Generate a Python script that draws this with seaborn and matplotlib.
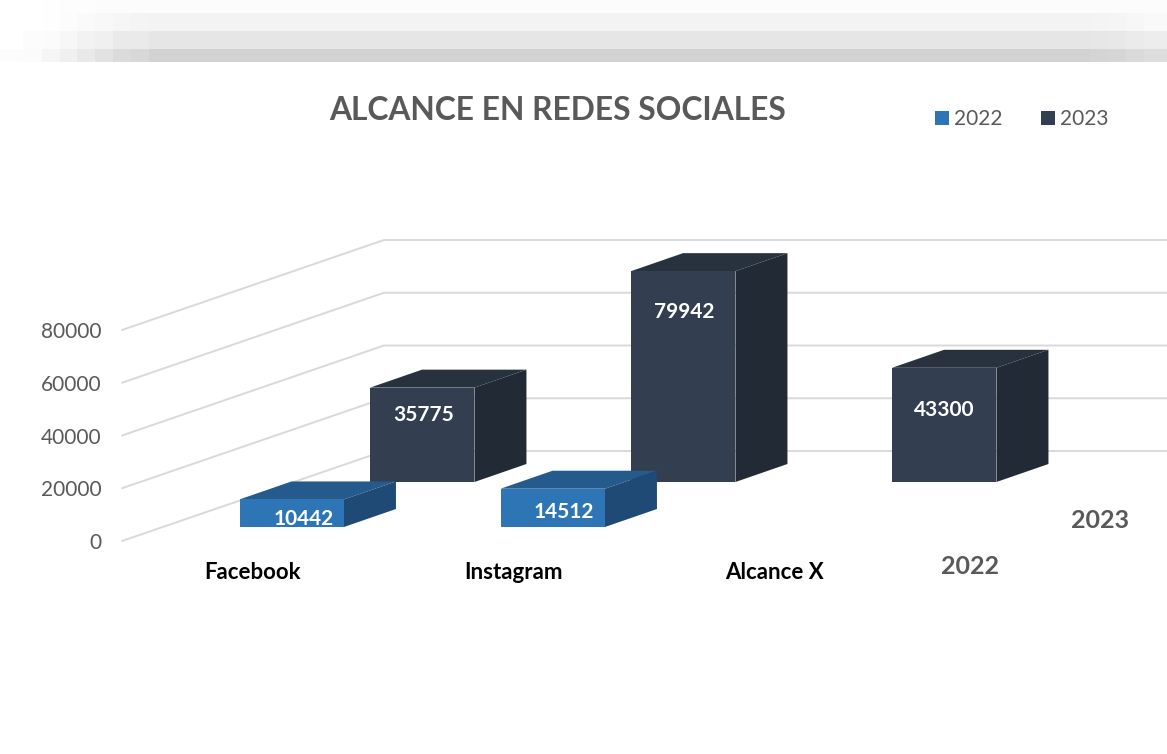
import matplotlib
matplotlib.use("Agg")
import matplotlib.pyplot as plt
from matplotlib.patches import Polygon
import numpy as np
import pandas as pd
import seaborn as sns

# ========= datos =========
redes = ["Facebook", "Instagram", "Alcance X"]
alcance_2022 = [10442, 14512, np.nan]
alcance_2023 = [35775, 79942, 43300]
anios = ["2022", "2023"]
y_ticks = [0, 20000, 40000, 60000, 80000]

colores = {"2022": "#2E75B6", "2023": "#333F50"}
lateral = {"2022": "#1E4A75", "2023": "#222A35"}
superior = {"2022": "#255A8C", "2023": "#28323F"}
# ============================

# franja gris de arriba (escalones)
banda_x = [0, 23, 42, 60, 77, 95, 113, 131, 149, 1090, 1108, 1126, 1144, 1167]
banda_y = [0, 13, 31, 49, 62]
banda_gris = [
    [255, 255, 254, 253, 253, 252, 252, 252, 252, 252, 252, 252, 252],
    [255, 255, 254, 252, 250, 248, 246, 244, 243, 244, 245, 247, 249],
    [255, 252, 251, 247, 242, 240, 234, 234, 230, 231, 232, 235, 237],
    [252, 251, 245, 240, 233, 226, 219, 216, 210, 212, 214, 218, 221],
]

W, H = 1167, 754
px_y = 80000 / 211      # unidades de valor por pixel
px_x = 1 / 261          # categorias por pixel
prof_barra = (52 * px_x, 18 * px_y)
prof_suelo = (262 * px_x, 90 * px_y)
fila = {"2022": 14 * px_y, "2023": 59 * px_y}
# desplazamiento de cada etiqueta respecto al borde superior de la barra (px)
etiqueta_off = {"2022": [(12, 20), (11, 23)], "2023": [(1, 27), (1, 41), (0, 42)]}

sns.set_theme(style="white")
plt.rcParams["font.family"] = ["Lato", "DejaVu Sans"]

df = pd.DataFrame({
    "red": redes * 2,
    "alcance": alcance_2022 + alcance_2023,
    "anio": ["2022"] * 3 + ["2023"] * 3,
})

fig = plt.figure(figsize=(W / 100, H / 100), dpi=100)

ax_banda = fig.add_axes([0, 1 - 62 / H, 1, 62 / H])
ax_banda.pcolormesh(banda_x, banda_y, banda_gris, cmap="gray", vmin=0, vmax=255)
ax_banda.set_ylim(62, 0)
ax_banda.set_xlim(0, W)
ax_banda.set_axis_off()

ax = fig.add_axes([122 / W, (H - 541) / H, (W - 122) / W, 300 / H])
sns.barplot(data=df, x="red", y="alcance", hue="anio", hue_order=anios, palette=colores,
            width=1, gap=0.2, saturation=1, linewidth=0, ax=ax, legend=True)

ax.set_xlim((122 - 357) * px_x, (1167 - 357) * px_x)
ax.set_ylim(0, 300 * px_y)

# paredes y rejilla
for t in y_ticks:
    x0, x1, x2 = ax.get_xlim()[0], ax.get_xlim()[0] + prof_suelo[0], ax.get_xlim()[1]
    yb = t + prof_suelo[1]
    ax.plot([x0, x1, x2], [t, yb, yb], color="#D9D9D9", lw=1.4, zorder=1, clip_on=False)

# caras 3D de las barras
for cont, anio in zip(ax.containers, anios):
    z = 5 if anio == "2022" else 3
    vivos = [p for p in cont if not np.isnan(p.get_height())]
    for p, off in zip(vivos, etiqueta_off[anio]):
        p.set_y(fila[anio])
        p.set_zorder(z)
        p.set_clip_on(False)
        p.set_edgecolor("none")
        a, b = p.get_x(), p.get_x() + p.get_width()
        y0, y1 = p.get_y(), p.get_y() + p.get_height()
        dx, dy = prof_barra
        ax.add_patch(Polygon([(a, y1), (b, y1), (b + dx, y1 + dy), (a + dx, y1 + dy)],
                             facecolor=superior[anio], edgecolor="none", zorder=z - 0.5,
                             clip_on=False))
        ax.add_patch(Polygon([(b, y0), (b + dx, y0 + dy), (b + dx, y1 + dy), (b, y1)],
                             facecolor=lateral[anio], edgecolor="none", zorder=z - 0.5,
                             clip_on=False))
        ax.annotate(f"{p.get_height():.0f}", xy=((a + b) / 2, y1),
                    xytext=(off[0] * 0.72, -off[1] * 0.72), textcoords="offset points",
                    ha="center", va="center", color="white", fontsize=15,
                    fontweight="bold", zorder=6)

ax.set_xlabel("")
ax.set_ylabel("")
ax.set_yticks(y_ticks)
ax.set_xticks(np.arange(3) - 0.4)
ax.set_xticklabels(redes, fontsize=16, fontweight="bold", color="black")
ax.tick_params(axis="x", length=0, pad=15)
ax.tick_params(axis="y", length=0, pad=15, labelsize=15, labelcolor="#595959")
sns.despine(ax=ax, left=True, bottom=True)
ax.patch.set_alpha(0)

sns.move_legend(ax, "center left", bbox_to_anchor=(935 / W, 1 - 119 / H),
                bbox_transform=fig.transFigure, ncols=2, frameon=False, title=None,
                fontsize=15, handlelength=0.66, handleheight=0.66, handletextpad=0.27,
                columnspacing=1.82, labelcolor="#595959", borderpad=0, borderaxespad=0)

fig.text(558 / W, 1 - 110 / H, "ALCANCE EN REDES SOCIALES", ha="center", va="center",
         fontsize=22.85, fontweight="bold", color="#595959")
fig.text(970 / W, 1 - 567 / H, "2022", ha="center", va="center", fontsize=18,
         fontweight="bold", color="#595959")
fig.text(1100 / W, 1 - 521 / H, "2023", ha="center", va="center", fontsize=18,
         fontweight="bold", color="#595959")

fig.savefig("out.png", dpi=100)
